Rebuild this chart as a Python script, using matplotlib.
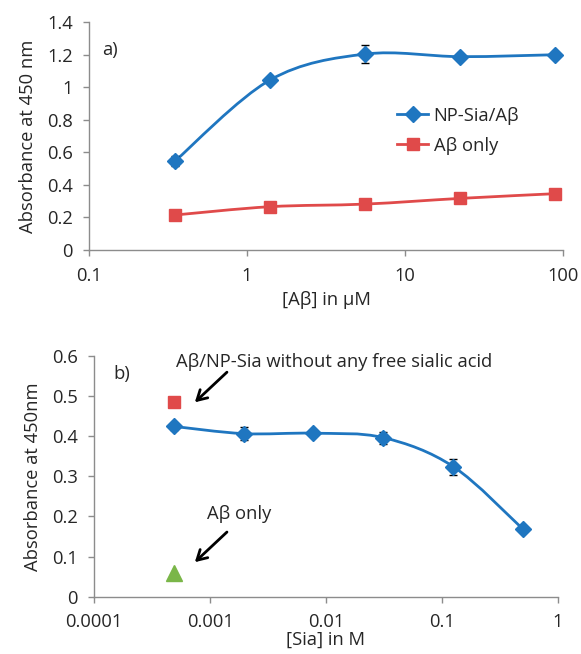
import numpy as np
import matplotlib
matplotlib.use('Agg')
import matplotlib.pyplot as plt
from matplotlib.path import Path
from matplotlib.patches import PathPatch
from matplotlib.lines import Line2D

plt.rcParams['font.family'] = ['Open Sans', 'DejaVu Sans']

# panel a) data
ab_conc = [0.35, 1.4, 5.6, 22.4, 89.6]
np_sia_ab = [0.546, 1.044, 1.203, 1.187, 1.199]
np_sia_ab_err = [0.03, 0.02, 0.055, 0.012, 0.01]
ab_only = [0.215, 0.266, 0.282, 0.317, 0.346]

# panel b) data
sia_conc = [0.000488, 0.00195, 0.0078, 0.03125, 0.125, 0.5]
sia_abs = [0.424, 0.406, 0.407, 0.396, 0.324, 0.168]
sia_err = [0.008, 0.017, 0.008, 0.015, 0.02, 0.006]
no_free_x, no_free_y = [0.000488], [0.486]
ab_only_b_x, ab_only_b_y = [0.000488], [0.059]

BLUE = '#1f76c0'
RED = '#e04a4a'
GREEN = '#7ab648'
GRAY = '#8c8c8c'
TXT = '#262626'
FS = 13.2


def smooth_path(x, y):
    # Excel-like smoothed line: cubic bezier through points in log-x space
    pts = np.column_stack([np.log10(x), y])
    n = len(pts)
    verts = [pts[0]]
    codes = [Path.MOVETO]
    for i in range(n - 1):
        p0 = pts[i - 1] if i > 0 else pts[i]
        p1, p2 = pts[i], pts[i + 1]
        p3 = pts[i + 2] if i + 2 < n else pts[i + 1]
        verts += [p1 + (p2 - p0) / 6, p2 - (p3 - p1) / 6, p2]
        codes += [Path.CURVE4] * 3
    verts = np.array(verts)
    verts[:, 0] = 10 ** verts[:, 0]
    return Path(verts, codes)


def style_axes(ax):
    ax.set_xscale('log')
    for s in ['top', 'right']:
        ax.spines[s].set_visible(False)
    for s in ['left', 'bottom']:
        ax.spines[s].set_color(GRAY)
        ax.spines[s].set_linewidth(1.0)
    ax.tick_params(which='major', direction='out', length=4.5, color=GRAY,
                   labelsize=FS, labelcolor=TXT, width=1.0)
    ax.tick_params(axis='x', pad=8)
    ax.tick_params(axis='y', pad=7)
    ax.minorticks_off()


fig = plt.figure(figsize=(5.81, 6.54), dpi=100)

# ---- panel a
ax1 = fig.add_axes([0.1532, 0.6177, 0.8158, 0.3487])
style_axes(ax1)
ax1.add_patch(PathPatch(smooth_path(ab_conc, np_sia_ab), fill=False, ec=BLUE, lw=2))
ax1.add_patch(PathPatch(smooth_path(ab_conc, ab_only), fill=False, ec=RED, lw=2))
ax1.errorbar(ab_conc, np_sia_ab, yerr=np_sia_ab_err, fmt='D', ms=8, color=BLUE,
             ecolor='black', elinewidth=1, capsize=3, zorder=3)
ax1.plot(ab_conc, ab_only, 's', ms=9, color=RED, zorder=3)
ax1.set_xlim(0.1, 100)
ax1.set_ylim(0, 1.4)
ax1.set_xticks([0.1, 1, 10, 100])
ax1.set_xticklabels(['0.1', '1', '10', '100'])
ax1.set_yticks(np.arange(0, 1.41, 0.2))
ax1.set_yticklabels(['0', '0.2', '0.4', '0.6', '0.8', '1', '1.2', '1.4'])
ax1.set_xlabel('[Aβ] in μM', fontsize=FS, color=TXT, labelpad=4)
ax1.set_ylabel('Absorbance at 450 nm', fontsize=FS, color=TXT, labelpad=7)
ax1.text(0.027, 0.877, 'a)', transform=ax1.transAxes, fontsize=FS, color=TXT, va='center')
handles = [Line2D([], [], color=BLUE, lw=2, marker='D', ms=8),
           Line2D([], [], color=RED, lw=2, marker='s', ms=9)]
ax1.legend(handles, ['NP-Sia/Aβ', 'Aβ only'], loc='upper left',
           bbox_to_anchor=(0.615, 0.7), frameon=False, fontsize=FS,
           handlelength=1.7, handletextpad=0.3, labelspacing=0.65,
           labelcolor=TXT)

# ---- panel b
ax2 = fig.add_axes([0.1618, 0.0876, 0.7986, 0.3685])
style_axes(ax2)
ax2.tick_params(axis='x', pad=7)
ax2.add_patch(PathPatch(smooth_path(sia_conc, sia_abs), fill=False, ec=BLUE, lw=2))
ax2.errorbar(sia_conc, sia_abs, yerr=sia_err, fmt='D', ms=8, color=BLUE,
             ecolor='black', elinewidth=1, capsize=3, zorder=3)
ax2.plot(no_free_x, no_free_y, 's', ms=9, color=RED, zorder=3)
ax2.plot(ab_only_b_x, ab_only_b_y, '^', ms=11, color=GREEN, zorder=3)
ax2.set_xlim(0.0001, 1)
ax2.set_ylim(0, 0.6)
ax2.set_xticks([0.0001, 0.001, 0.01, 0.1, 1])
ax2.set_xticklabels(['0.0001', '0.001', '0.01', '0.1', '1'])
ax2.set_yticks(np.arange(0, 0.61, 0.1))
ax2.set_yticklabels(['0', '0.1', '0.2', '0.3', '0.4', '0.5', '0.6'])
ax2.set_xlabel('[Sia] in M', fontsize=FS, color=TXT, labelpad=0)
ax2.set_ylabel('Absorbance at 450nm', fontsize=FS, color=TXT, labelpad=7)
ax2.text(0.041, 0.924, 'b)', transform=ax2.transAxes, fontsize=FS, color=TXT, va='center')

ax2.text(0.00051, 0.584, 'Aβ/NP-Sia without any free sialic acid', fontsize=FS,
         color=TXT, va='center', ha='left')
ax2.annotate('', xy=(0.00074, 0.484), xytext=(0.0014, 0.559),
             arrowprops=dict(arrowstyle='->,head_length=0.7,head_width=0.4',
                             lw=2, color='black', shrinkA=0, shrinkB=0))
ax2.text(0.0018, 0.205, 'Aβ only', fontsize=FS, color=TXT, va='center', ha='center')
ax2.annotate('', xy=(0.00074, 0.086), xytext=(0.0014, 0.161),
             arrowprops=dict(arrowstyle='->,head_length=0.7,head_width=0.4',
                             lw=2, color='black', shrinkA=0, shrinkB=0))

fig.savefig('out.png', dpi=100)
